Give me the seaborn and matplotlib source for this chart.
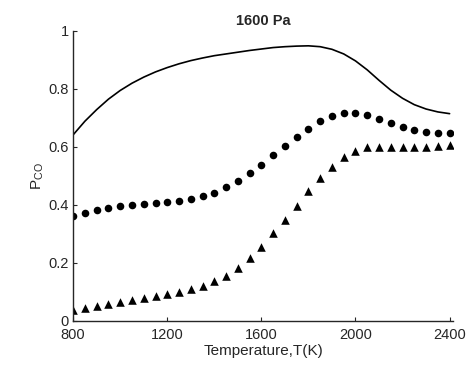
import numpy as np
import pandas as pd
import matplotlib
matplotlib.use("Agg")
import matplotlib.pyplot as plt
import seaborn as sns

# --- datos ---
temp_pts = list(range(800, 2401, 50))

p_circulos = [0.361, 0.370, 0.381, 0.388, 0.394, 0.398, 0.401, 0.405, 0.408, 0.413,
              0.419, 0.429, 0.442, 0.460, 0.481, 0.508, 0.538, 0.570, 0.602, 0.634,
              0.662, 0.688, 0.706, 0.715, 0.716, 0.709, 0.697, 0.683, 0.669, 0.658,
              0.651, 0.648, 0.646]

p_triangulos = [0.037, 0.044, 0.051, 0.058, 0.063, 0.070, 0.077, 0.084, 0.091, 0.099,
                0.108, 0.120, 0.137, 0.155, 0.181, 0.215, 0.255, 0.301, 0.347, 0.396,
                0.446, 0.491, 0.531, 0.563, 0.585, 0.598, 0.600, 0.600, 0.600, 0.600,
                0.600, 0.602, 0.605]

p_linea = [0.641, 0.688, 0.728, 0.764, 0.794, 0.819, 0.840, 0.858, 0.873, 0.886,
           0.897, 0.906, 0.914, 0.920, 0.926, 0.932, 0.937, 0.942, 0.945, 0.947,
           0.948, 0.945, 0.936, 0.920, 0.896, 0.865, 0.829, 0.795, 0.767, 0.745,
           0.730, 0.720, 0.714]

df = pd.DataFrame({"T": temp_pts, "circ": p_circulos, "tri": p_triangulos, "lin": p_linea})

sns.set_style("white")
plt.rcParams['font.family'] = ['Liberation Sans', 'DejaVu Sans']
plt.rcParams['mathtext.fontset'] = 'custom'
plt.rcParams['mathtext.rm'] = 'Liberation Sans'

fig = plt.figure(figsize=(4.72, 3.75), dpi=100)
ax = fig.add_axes([0.155, 0.145, 0.805, 0.773])

sns.lineplot(data=df, x="T", y="lin", color="black", linewidth=1.2, ax=ax)
sns.scatterplot(data=df, x="T", y="circ", color="black", marker="o", s=30,
                edgecolor="black", linewidth=0, ax=ax)
sns.scatterplot(data=df, x="T", y="tri", color="black", marker="^", s=38,
                edgecolor="black", linewidth=0, ax=ax)

ax.set_xlim(800, 2415)
ax.set_ylim(0, 1)
ax.set_xticks([800, 1200, 1600, 2000, 2400])
ax.set_yticks([0, 0.2, 0.4, 0.6, 0.8, 1])
ax.set_yticklabels(['0', '0.2', '0.4', '0.6', '0.8', '1'])
ax.tick_params(direction='in', length=3, width=0.8, labelsize=10.5, colors='#262626',
               labelcolor='#262626', bottom=True, left=True)
ax.tick_params(axis='x', pad=5)
ax.tick_params(axis='y', pad=3)

for s in ['top', 'right']:
    ax.spines[s].set_visible(False)
for s in ['left', 'bottom']:
    ax.spines[s].set_color('#262626')
    ax.spines[s].set_linewidth(1.0)

ax.set_xlabel('Temperature,T(K)', fontsize=11, color='#262626', labelpad=2)
ax.set_ylabel(r'$\mathregular{P_{CO}}$', fontsize=11, color='#262626', labelpad=2)
ax.set_title('1600 Pa', fontsize=10.5, fontweight='bold', pad=4)

fig.savefig('out.png', dpi=100)
